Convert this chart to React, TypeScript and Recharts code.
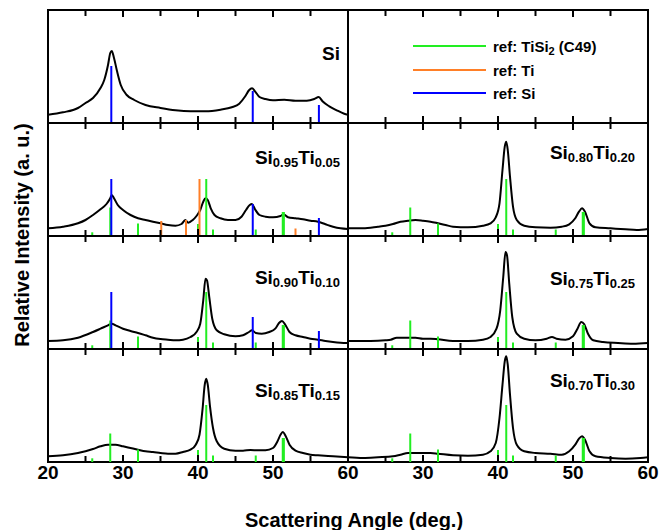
import { ComposedChart, Line, XAxis, YAxis, ReferenceLine, ReferenceArea } from 'recharts';

// x axis ticks (2theta, deg.)
const majorTicks = [20, 30, 40, 50, 60];
const minorTicks = [25, 35, 45, 55];
const rightLabelTicks = [30, 40, 50, 60];

// reference stick patterns: position (deg.) and height (a.u.)
const tisi2Pos = [25.9, 28.3, 32.0, 40.0, 41.1, 42.0, 47.7, 51.3, 51.45];
const tisi2Int = [3.7, 28.5, 12.5, 12, 57, 6.5, 6.5, 24, 24];
const tiPos = [35.1, 38.4, 40.2, 53.0];
const tiInt = [15, 16, 57, 7.5];
const siPos = [28.44, 47.3, 56.12, 58.86];
const siInt = [57, 32, 18, 1];

// measured patterns, [2theta, intensity]
const patSi = [
  [20, 8.3], [22, 10.7], [24, 15], [25, 20], [26, 25], [27, 35], [27.5, 43], [28, 58], [28.3, 70],
  [28.5, 72], [28.8, 65], [29.2, 52], [29.7, 38], [30.5, 28], [31.5, 23], [33, 18], [35, 15],
  [37, 12.7], [39, 11.7], [41, 11.7], [43, 13.3], [44.5, 15.7], [45.5, 19.3], [46.3, 26.7],
  [46.8, 32.7], [47.2, 34.7], [47.6, 31.7], [48.2, 26], [49, 24], [50, 22.7], [51.5, 23.3],
  [53, 22.3], [54.5, 22.3], [55.5, 24], [56.1, 26], [56.6, 21.7], [57.5, 16.7], [58.5, 12.7],
  [59.5, 9.3], [60, 8.3],
];
const pat95 = [
  [20, 7.7], [22, 9.3], [24, 12.7], [25, 16], [26, 21], [27, 26.7], [27.8, 32], [28.3, 37.7],
  [28.5, 41], [28.8, 37.7], [29.3, 31], [30, 26], [31, 21], [32, 17.7], [33, 16], [34, 14.3],
  [35, 12.7], [36, 11], [37, 10.3], [37.8, 12], [38.3, 16], [38.7, 13.3], [39.3, 16], [39.8, 20],
  [40.3, 26], [40.7, 34.3], [41.0, 37.7], [41.3, 36], [41.7, 27.7], [42.2, 21], [43, 17.7],
  [44, 16], [45, 16], [45.8, 19.3], [46.4, 26], [46.9, 31], [47.2, 32], [47.6, 26.7], [48.2, 21],
  [49, 19.3], [50, 18.7], [51, 20], [51.4, 21.7], [52, 18.7], [53, 17.7], [54, 16.7], [55, 15.3],
  [56, 14.3], [57, 11.7], [58, 9.3], [59, 7.7], [60, 7],
];
const pat90 = [
  [20, 8], [22, 8.7], [24, 11.3], [26, 17], [27, 20.3], [28, 23.7], [28.5, 25.3], [29, 23.7],
  [30, 20.3], [31, 18], [32, 16], [33, 13.7], [34, 11.3], [35, 10], [36, 9.3], [37, 8.7], [38, 9.3],
  [39, 12], [39.8, 17], [40.3, 25.3], [40.7, 48.7], [41.0, 70.3], [41.2, 68.7], [41.5, 52],
  [41.9, 30.3], [42.5, 18.7], [43.5, 14.7], [45, 12.7], [46, 13.7], [46.8, 17], [47.2, 18.7],
  [47.7, 16], [48.5, 15.3], [49.5, 17], [50.3, 20.3], [50.8, 26], [51.2, 28], [51.6, 24.7],
  [52.2, 17], [53, 13.7], [54, 12], [55, 10.3], [56, 9.3], [57, 8], [58, 7], [59, 6.3], [60, 6],
];
const pat85 = [
  [20, 5.7], [22, 6.7], [24, 9], [25, 10.7], [26, 13], [27, 15.7], [28, 17.3], [29, 17.3],
  [30, 15.7], [31, 14], [32, 12.3], [33, 10.7], [34, 10], [35, 9], [36, 8.3], [37, 8.3], [38, 10],
  [39, 12.3], [39.7, 17.3], [40.2, 27.3], [40.6, 52.3], [40.9, 77.3], [41.1, 83.3], [41.3, 77.3],
  [41.6, 55.7], [42.0, 34], [42.5, 20.7], [43.5, 13.3], [45, 11.3], [46, 11.3], [47, 12],
  [48, 11.7], [49, 11.7], [50, 14], [50.6, 20.7], [51.0, 27.3], [51.3, 30], [51.7, 25.7],
  [52.2, 17.3], [53, 11.3], [54, 9], [55, 7.3], [56, 6.7], [58, 5.7], [60, 4.7],
];
const pat80 = [
  [20, 7.7], [22, 7.7], [24, 9.3], [25, 10.3], [26, 12], [27, 14.3], [28, 15.3], [29, 16],
  [30, 15.3], [31, 14.3], [32, 12.7], [33, 11], [34, 9.3], [36, 8.7], [38, 10.3], [39, 12.7],
  [39.7, 18.7], [40.2, 32.7], [40.6, 66], [40.9, 89.3], [41.1, 94.3], [41.3, 86], [41.6, 59.3],
  [42, 29.3], [42.5, 16], [43.5, 10.3], [45, 8.7], [47, 8.3], [48.5, 9.3], [49.5, 11.7],
  [50.3, 17.7], [50.8, 24.3], [51.2, 27.7], [51.6, 24.3], [52.2, 12.7], [53, 8.7], [55, 7.7],
  [57, 6.7], [58.5, 6], [60, 7],
];
const pat75 = [
  [20, 8], [23, 8], [25, 8.7], [25.7, 9.3], [26.5, 11.3], [28, 11.3], [29, 11.3], [30, 10.3],
  [31, 10.3], [32, 9.7], [34, 8], [36, 8], [38, 9.3], [39, 12], [39.8, 20.3], [40.3, 38.7],
  [40.7, 72], [41.0, 97], [41.2, 93.7], [41.5, 65.3], [41.9, 32], [42.5, 15.3], [43.5, 10.3],
  [45, 8.7], [46.5, 10.3], [47.2, 12], [47.8, 10.3], [49, 9.3], [50, 12.7], [50.6, 20.3],
  [51.1, 27], [51.5, 24.7], [52, 15.3], [52.7, 8.7], [54, 7], [56, 6], [58, 5.3], [60, 6],
];
const pat70 = [
  [20, 4.7], [22, 4], [24, 4.7], [26, 5.7], [27, 7.3], [28, 9], [29, 9], [30, 9], [31, 9],
  [32, 8.3], [34, 6.7], [36, 6.3], [38, 7.3], [39, 10.7], [39.7, 19], [40.2, 44], [40.6, 77.3],
  [40.9, 100.7], [41.1, 105.7], [41.3, 97.3], [41.6, 67.3], [42, 34], [42.5, 17.3], [43.5, 10.7],
  [45, 9], [47, 8.3], [48.5, 7.3], [49.5, 10.7], [50.3, 17.3], [50.8, 23.3], [51.2, 25.7],
  [51.6, 22.3], [52.2, 10.7], [53, 5.7], [55, 4], [57, 3.3], [59, 4], [60, 4.7],
];

const GREEN = '#22ee22';
const ORANGE = '#ff7f27';
const BLUE = '#0000ff';
const FONT = '"Liberation Sans", Arial, sans-serif';

const PW = 300;
const PH = 113;
const MV = 4;
const MH = 16;

type Stick = { pos: number[]; int: number[]; color: string };
const refTiSi2: Stick = { pos: tisi2Pos, int: tisi2Int, color: GREEN };
const refTi: Stick = { pos: tiPos, int: tiInt, color: ORANGE };
const refSi: Stick = { pos: siPos, int: siInt, color: BLUE };

const toRows = (p: number[][]) => p.map(([a, v]) => ({ a, v }));
const blank = () => '';

function Panel({ pattern, refs, left, top, labelTicks }: { pattern: number[][]; refs: Stick[]; left: number; top: number; labelTicks?: number[] }) {
  const extra = labelTicks ? 30 : 0;
  const tl = { stroke: '#000', strokeWidth: 2 };
  const common = { dataKey: 'a', type: 'number' as const, domain: [20, 60], allowDataOverflow: true, mirror: true, height: 1, interval: 0, tickFormatter: blank, axisLine: false, tickLine: tl };
  return (
    <div style={{ position: 'absolute', left: left - MH, top: top - MV }}>
      <ComposedChart width={PW + 2 * MH} height={PH + 2 * MV + extra} data={toRows(pattern)} margin={{ top: MV, right: MH, bottom: MV, left: MH }}>
        <XAxis xAxisId="b" orientation="bottom" ticks={majorTicks} tickSize={7} {...common} />
        <XAxis xAxisId="bm" orientation="bottom" ticks={minorTicks} tickSize={5} {...common} />
        <XAxis xAxisId="t" orientation="top" ticks={majorTicks} tickSize={7} {...common} />
        <XAxis xAxisId="tm" orientation="top" ticks={minorTicks} tickSize={5} {...common} />
        {labelTicks && (
          <XAxis xAxisId="lbl" dataKey="a" type="number" domain={[20, 60]} allowDataOverflow orientation="bottom" height={30} ticks={labelTicks} interval={0} tickSize={0} tickMargin={4} axisLine={false} tickLine={false} tick={{ fill: '#000', fontSize: 19, fontWeight: 'bold', fontFamily: FONT }} />
        )}
        <YAxis hide type="number" domain={[0, PH]} allowDataOverflow />
        <Line xAxisId="b" type="monotone" dataKey="v" stroke="#000" strokeWidth={2} dot={false} isAnimationActive={false} />
        {refs.map((r) =>
          r.pos.map((p, i) => (
            <ReferenceLine key={r.color + i} xAxisId="b" segment={[{ x: p, y: 0 }, { x: p, y: r.int[i] }]} stroke={r.color} strokeWidth={2} />
          ))
        )}
        <ReferenceArea xAxisId="b" x1={20} x2={60} y1={0} y2={PH} fill="none" stroke="#000" strokeWidth={2} />
      </ComposedChart>
    </div>
  );
}

function SampleLabel({ si, ti, right, capTop }: { si?: string; ti?: string; right: number; capTop: number }) {
  const sub = { fontSize: 13, position: 'relative' as const, top: 3 };
  return (
    <div style={{ position: 'absolute', right: 662 - right, top: capTop - 2.5, fontFamily: FONT, fontWeight: 'bold', fontSize: 19, lineHeight: '19px', whiteSpace: 'nowrap' }}>
      Si{si && <span style={sub}>{si}</span>}
      {ti && <>Ti<span style={sub}>{ti}</span></>}
    </div>
  );
}

function LegendRow({ color, y, children }: { color: string; y: number; children: any }) {
  return (
    <>
      <div style={{ position: 'absolute', left: 413, top: y - 1, width: 73, height: 2, background: color }} />
      <div style={{ position: 'absolute', left: 493, top: y - 7.4, fontFamily: FONT, fontWeight: 'bold', fontSize: 15, lineHeight: '15px', whiteSpace: 'nowrap' }}>{children}</div>
    </>
  );
}

export default function App() {
  const L = 48;
  const R = 348;
  return (
    <div style={{ position: 'absolute', left: 0, top: 0, width: 662, height: 530, background: '#fff' }}>
      <Panel pattern={patSi} refs={[refSi]} left={L} top={10} />
      <Panel pattern={pat95} refs={[refTiSi2, refTi, refSi]} left={L} top={123} />
      <Panel pattern={pat90} refs={[refTiSi2, refSi]} left={L} top={236} />
      <Panel pattern={pat85} refs={[refTiSi2]} left={L} top={349} labelTicks={majorTicks} />
      <Panel pattern={[]} refs={[]} left={R} top={10} />
      <Panel pattern={pat80} refs={[refTiSi2]} left={R} top={123} />
      <Panel pattern={pat75} refs={[refTiSi2]} left={R} top={236} />
      <Panel pattern={pat70} refs={[refTiSi2]} left={R} top={349} labelTicks={rightLabelTicks} />

      <SampleLabel right={340} capTop={46.7} />
      <SampleLabel si="0.95" ti="0.05" right={340} capTop={150.7} />
      <SampleLabel si="0.90" ti="0.10" right={340} capTop={270.7} />
      <SampleLabel si="0.85" ti="0.15" right={340} capTop={383.3} />
      <SampleLabel si="0.80" ti="0.20" right={635} capTop={145} />
      <SampleLabel si="0.75" ti="0.25" right={635} capTop={271.7} />
      <SampleLabel si="0.70" ti="0.30" right={635} capTop={373.3} />

      <LegendRow color={GREEN} y={46}>ref: TiSi<span style={{ fontSize: 11, position: 'relative', top: 3 }}>2</span> (C49)</LegendRow>
      <LegendRow color={ORANGE} y={70}>ref: Ti</LegendRow>
      <LegendRow color={BLUE} y={93}>ref: Si</LegendRow>

      <div style={{ position: 'absolute', left: 22, top: 235, transform: 'translate(-50%, -50%) rotate(-90deg)', fontFamily: FONT, fontWeight: 'bold', fontSize: 20, lineHeight: '20px', whiteSpace: 'nowrap' }}>
        Relative Intensity (a. u.)
      </div>
      <div style={{ position: 'absolute', left: 354, top: 510, transform: 'translateX(-50%)', fontFamily: FONT, fontWeight: 'bold', fontSize: 20, lineHeight: '20px', whiteSpace: 'nowrap' }}>
        Scattering Angle (deg.)
      </div>
    </div>
  );
}
